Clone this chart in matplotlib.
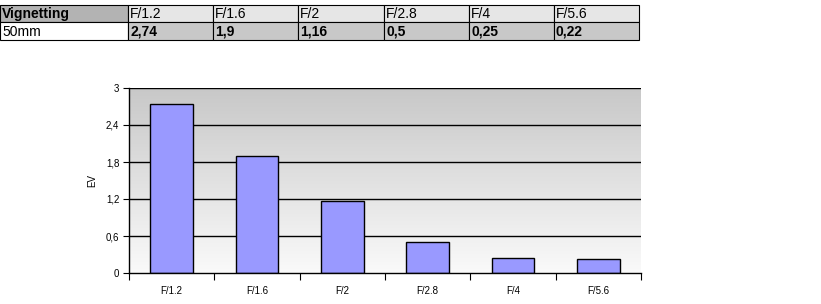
import matplotlib
matplotlib.use("Agg")
import matplotlib.pyplot as plt
import numpy as np
from matplotlib.patches import Rectangle

categories = ["F/1.2", "F/1.6", "F/2", "F/2.8", "F/4", "F/5.6"]
values = [2.74, 1.9, 1.16, 0.5, 0.25, 0.22]
value_labels = ["2,74", "1,9", "1,16", "0,5", "0,25", "0,22"]
row_label = "50mm"
table_title = "Vignetting"
yticks = [0, 0.6, 1.2, 1.8, 2.4, 3]
ytick_labels = ["0", "0,6", "1,2", "1,8", "2,4", "3"]

plt.rcParams['font.family'] = ['Liberation Sans', 'DejaVu Sans']
W, H = 821, 304
fig = plt.figure(figsize=(W/100, H/100), dpi=100)

# --- table (figure pixel coords) ---
def fx(x): return x / W
def fy(y): return 1 - y / H

col_edges = [0, 128, 213, 298, 384, 469, 554, 639]
row_edges = [5, 22, 40]
for r in range(2):
    for c in range(7):
        x0, x1 = col_edges[c], col_edges[c+1]
        y0, y1 = row_edges[r], row_edges[r+1]
        if r == 0:
            fc = "#b3b3b3" if c == 0 else "#e6e6e6"
        else:
            fc = "#ffffff" if c == 0 else "#c8c8c8"
        fig.patches.append(Rectangle((fx(x0), fy(y1)), fx(x1) - fx(x0), fy(y0) - fy(y1),
                                     transform=fig.transFigure, facecolor=fc,
                                     edgecolor="black", linewidth=0.8))
        if r == 0:
            txt = table_title if c == 0 else categories[c-1]
            fw = "bold" if c == 0 else "normal"
        else:
            txt = row_label if c == 0 else value_labels[c-1]
            fw = "normal" if c == 0 else "bold"
        fig.text(fx(x0 + 2), fy((y0 + y1) / 2 + 0.5), txt, fontsize=10, fontweight=fw,
                 va="center", ha="left")

# --- chart ---
ax = fig.add_axes([129/W, 1 - 273/H, (641-129)/W, (273-88)/H])
x = np.arange(len(categories))
ax.set_xlim(-0.5, len(categories) - 0.5)
ax.set_ylim(0, 3)

grad = np.linspace(0, 1, 256).reshape(-1, 1)
ax.imshow(grad, cmap=matplotlib.colors.LinearSegmentedColormap.from_list(
    "g", ["#fafafa", "#c8c8c8"]), extent=[-0.5, len(categories) - 0.5, 0, 3],
    origin="lower", aspect="auto", zorder=0)

for yv in yticks[1:]:
    ax.axhline(yv, color="black", linewidth=1, zorder=1)

ax.bar(x, values, width=0.5, color="#9999ff", edgecolor="black", linewidth=1, zorder=2)

ax.set_yticks(yticks)
ax.set_yticklabels(ytick_labels, fontsize=7)
ax.set_xticks(np.arange(-0.5, len(categories)), minor=False)
ax.set_xticklabels([])
ax.set_xticks(x, minor=True)
ax.set_xticklabels(categories, minor=True, fontsize=7)
ax.tick_params(axis="x", which="minor", length=0, pad=9)
ax.tick_params(axis="x", which="major", length=5, direction="out")
ax.tick_params(axis="y", length=4, direction="out", pad=3)
for s in ["top", "right"]:
    ax.spines[s].set_visible(False)
ax.spines["left"].set_linewidth(1)
ax.spines["bottom"].set_linewidth(1)
ax.set_ylabel("EV", fontsize=7)
ax.yaxis.set_label_coords(-32/512, 0.5)

fig.savefig("out.png", dpi=100)
